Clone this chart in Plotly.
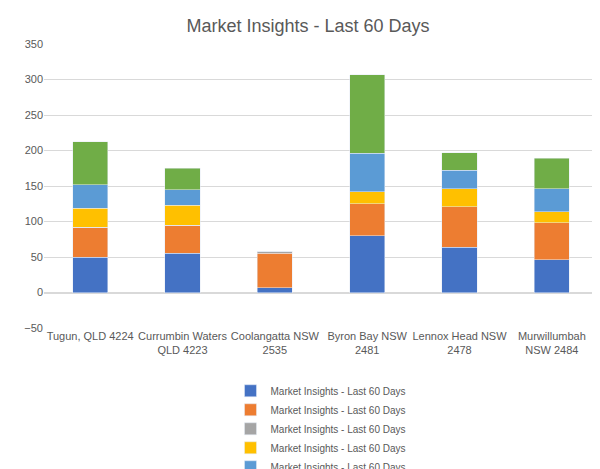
import plotly.graph_objects as go

categories = ["Tugun, QLD 4224", "Currumbin Waters<br>QLD 4223", "Coolangatta NSW<br>2535",
              "Byron Bay NSW<br>2481", "Lennox Head NSW<br>2478", "Murwillumbah<br>NSW 2484"]
series_name = "Market Insights - Last 60 Days"
s1 = [50, 55, 7, 80, 64, 46]
s2 = [42, 40, 48, 45, 57, 52]
s3 = [0, 0, 3, 0, 0, 0]
s4 = [27, 28, 0, 17, 25, 16]
s5 = [33, 22, 0, 54, 26, 32]
s6 = [60, 30, 0, 111, 25, 43]
colors = ["#4472C4", "#ED7D31", "#A5A5A5", "#FFC000", "#5B9BD5", "#70AD47"]

fig = go.Figure()
for vals, c in zip([s1, s2, s3, s4, s5, s6], colors):
    fig.add_trace(go.Bar(x=categories, y=vals, name=series_name, marker_color=c))

fig.update_layout(
    barmode="stack", bargap=0.62,
    width=600, height=469,
    title=dict(text="Market Insights - Last 60 Days", x=0.5, y=0.975, font=dict(size=18, color="#595959")),
    font=dict(family="Liberation Sans, Arial", size=11, color="#595959"),
    plot_bgcolor="white", paper_bgcolor="white",
    margin=dict(l=36, r=10, t=36, b=149, autoexpand=False),
    legend=dict(orientation="v", traceorder="normal", x=0.5, xanchor="center", y=-0.17, yanchor="top",
                font=dict(size=10, color="#595959"), tracegroupgap=0, itemwidth=30),
    yaxis=dict(range=[-50, 350], dtick=50, gridcolor="#D9D9D9", zeroline=True,
               zerolinecolor="#D9D9D9", ticks="", showline=False, tickfont=dict(color="#595959")),
    xaxis=dict(showline=False, ticks="", tickangle=0, tickfont=dict(color="#595959")),
)
fig.write_html("out.html")
